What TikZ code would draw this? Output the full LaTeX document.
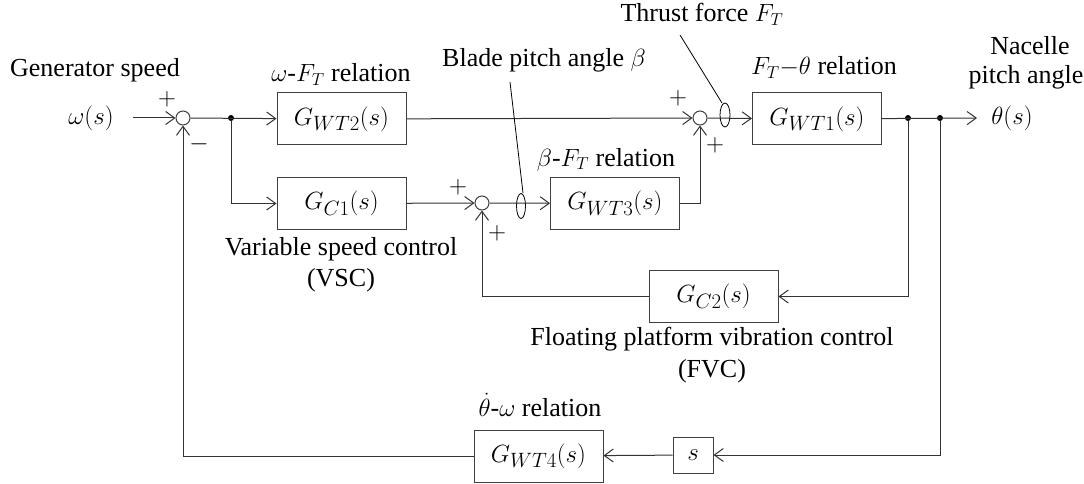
\documentclass[tikz,border=0pt]{standalone}
\usepackage{fontspec}
\setmainfont{Liberation Serif}
\usetikzlibrary{arrows.meta,calc}
\begin{document}
\begin{tikzpicture}[x=1pt,y=-1pt,
  font=\rmfamily\fontsize{26}{31}\selectfont,
  line width=1pt,
  >={Straight Barb[length=9pt,width=13pt]},
  mth/.style={font=\rmfamily\fontsize{29}{34}\selectfont},
  blk/.style={mth, draw=black!75, minimum width=129pt, minimum height=52pt, inner sep=0pt},
  sbox/.style={mth, draw=black!75, minimum width=40pt, minimum height=36pt, inner sep=0pt},
  sumc/.style={circle, draw=black!75, minimum size=14pt, inner sep=0pt},
  dotc/.style={circle, fill=black, minimum size=6pt, inner sep=0pt},
  lbl/.style={anchor=base, inner sep=0pt},
  sig/.style={inner sep=0pt},
  conn/.style={draw=black!80, ->},
  ptr/.style={draw=black, line width=0.8pt},
]
\useasboundingbox (0,0) rectangle (1084,484);

% summing junctions and dots
\node[sumc] (s1) at (183,118) {};
\node[sumc] (s2) at (700,118) {};
\node[sumc] (s3) at (482,203) {};
\node[dotc] (d1) at (231,118) {};
\node[dotc] (d2) at (908,118) {};
\node[dotc] (d3) at (940,118) {};

% blocks
\node[blk] (wt2) at (341.5,119) {$G_{WT2}(s)$};
\node[blk] (c1)  at (341.5,203.5) {$G_{C1}(s)$};
\node[blk] (wt3) at (615,203.5) {$G_{WT3}(s)$};
\node[blk] (wt1) at (817,119) {$G_{WT1}(s)$};
\node[blk] (c2)  at (713.5,296.5) {$G_{C2}(s)$};
\node[blk] (wt4) at (538.5,456) {$G_{WT4}(s)$};
\node[sbox] (sd) at (693,455) {$s$};

% signals
\node[sig, mth] (win) at (91,118) {$\omega(s)$};
\node[sig, mth] (thout) at (1012,118) {$\theta(s)$};
\coordinate (inp) at (133,118);
\coordinate (outp) at (977,118);

% labels
\node[lbl] (lgen) at (95,77) {Generator speed};
\node[lbl] (lwf) at (341,82) {$\omega$-$F_T$ relation};
\node[lbl] (lblade) at (544,67) {Blade pitch angle $\beta$};
\node[lbl] (lthrust) at (702,22) {Thrust force $F_T$};
\node[lbl] (lft) at (824,75) {$F_T{-}\theta$ relation};
\node[lbl] (lnac1) at (1030,55) {Nacelle};
\node[lbl] (lnac2) at (1026,84) {pitch angle};
\node[lbl] (lbf) at (606,166) {$\beta$-$F_T$ relation};
\node[lbl] (lvsc1) at (341,255) {Variable speed control};
\node[lbl] (lvsc2) at (341,286) {(VSC)};
\node[lbl] (lfvc1) at (712,345) {Floating platform vibration control};
\node[lbl] (lfvc2) at (712,377) {(FVC)};
\node[lbl] (ltw) at (540,416) {$\dot{\theta}$-$\omega$ relation};

% signs
\node[sig] (p1) at (167,99) {$+$};
\node[sig] (m1) at (199,144) {$-$};
\node[sig] (p2) at (678,98) {$+$};
\node[sig] (p3) at (715,145) {$+$};
\node[sig] (p4) at (458,187) {$+$};
\node[sig] (p5) at (497,233) {$+$};

% connectors
\draw[conn] (inp) -- (s1);
\draw[conn] (s1) -- (wt2);
\draw[conn] (d1) |- (c1.west);
\draw[conn] (wt2) -- (s2);
\draw[conn] (c1) -- (s3);
\draw[conn] (s3) -- (wt3);
\draw[conn] (wt3.east) -| (s2.south);
\draw[conn] (s2) -- (wt1);
\draw[conn] (wt1) -- (outp);
\draw[conn] (d2) |- (c2.east);
\draw[conn] (c2.west) -| (s3.south);
\draw[conn] (d3) |- (sd.east);
\draw[conn] (sd) -- (wt4);
\draw[conn] (wt4.west) -| (s1.south);

% pointer loops
\coordinate (bp) at (523,193);
\draw[ptr] (510,82) -- (bp);
\draw[ptr] (521,206) ellipse [x radius=4.5pt, y radius=12.5pt];
\coordinate (tp) at (722,103);
\draw[ptr] (680,35) -- (tp);
\draw[ptr] (725,115) ellipse [x radius=5pt, y radius=12pt];
\end{tikzpicture}
\end{document}
